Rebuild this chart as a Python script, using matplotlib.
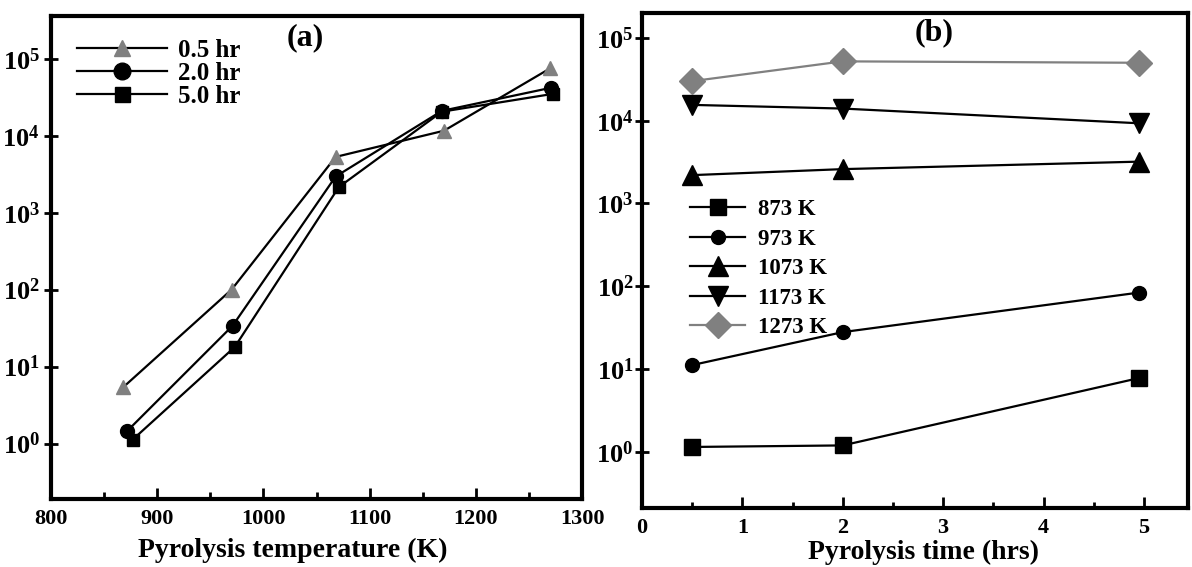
import matplotlib
matplotlib.use("Agg")
import matplotlib.pyplot as plt
from matplotlib.ticker import FixedLocator, NullLocator

plt.rcParams['font.family'] = ['Liberation Serif', 'DejaVu Serif']
plt.rcParams['font.weight'] = 'bold'
plt.rcParams['mathtext.fontset'] = 'custom'
plt.rcParams['mathtext.rm'] = 'Liberation Serif:bold'
plt.rcParams['mathtext.it'] = 'Liberation Serif:bold:italic'
plt.rcParams['mathtext.bf'] = 'Liberation Serif:bold'

# -------- data: panel (a), yield vs pyrolysis temperature --------
temp_05 = [868, 970, 1068, 1170, 1270]
val_05 = [5.4, 100, 5300, 11600, 75000]
temp_20 = [872, 971, 1068, 1168, 1271]
val_20 = [1.47, 34, 2950, 21000, 42000]
temp_50 = [877, 973, 1071, 1168, 1273]
val_50 = [1.13, 18, 2150, 20500, 35000]

# -------- data: panel (b), yield vs pyrolysis time --------
time_hrs = [0.5, 2.0, 4.95]
val_873 = [1.15, 1.2, 7.8]
val_973 = [11.2, 28, 84]
val_1073 = [2200, 2600, 3200]
val_1173 = [15500, 14000, 9300]
val_1273 = [30000, 52000, 50000]

ytick_vals = [1, 10, 100, 1000, 10000, 100000]
ytick_labels = [r'$10^{%d}$' % i for i in range(6)]

fig = plt.figure(figsize=(11.92, 5.67), dpi=100)
ax1 = fig.add_axes([0.0428, 0.1199, 0.4455, 0.8519])
ax2 = fig.add_axes([0.5386, 0.1041, 0.4581, 0.873])

gray = '#808080'

# -------- panel (a) --------
ax1.plot(temp_05, val_05, '-^', color='black', lw=1.6, mfc=gray, mec=gray, ms=10, label='0.5 hr')
ax1.plot(temp_20, val_20, '-o', color='black', lw=1.6, ms=10, label='2.0 hr')
ax1.plot(temp_50, val_50, '-s', color='black', lw=1.6, ms=9, label='5.0 hr')
ax1.set_yscale('log')
ax1.set_xlim(800, 1300)
ax1.set_ylim(10 ** -0.72, 10 ** 5.555)
ax1.set_xticks([800, 900, 1000, 1100, 1200, 1300])
ax1.xaxis.set_minor_locator(FixedLocator([850, 950, 1050, 1150, 1250]))
ax1.set_yticks(ytick_vals, ytick_labels)
ax1.yaxis.set_minor_locator(NullLocator())
ax1.tick_params(axis='x', which='major', direction='in', length=8, width=2, labelsize=16, pad=7)
ax1.tick_params(axis='x', which='minor', direction='in', length=5, width=2)
ax1.tick_params(axis='y', which='major', direction='inout', length=10, width=2, labelsize=19, pad=3)
ax1.set_xlabel('Pyrolysis temperature (K)', fontsize=20, fontweight='bold')
ax1.xaxis.set_label_coords(0.456, -0.08)
ax1.text(0.478, 0.955, '(a)', transform=ax1.transAxes, fontsize=23, fontweight='bold',
         ha='center', va='center')
ax1.legend(loc='upper left', bbox_to_anchor=(0.049, 0.952), frameon=False, fontsize=18,
           handlelength=3.6, handletextpad=0.45, labelspacing=0.0, borderpad=0, borderaxespad=0,
           markerscale=1.2)

# -------- panel (b) --------
ax2.plot(time_hrs, val_873, '-s', color='black', lw=1.6, ms=12, label='873 K')
ax2.plot(time_hrs, val_973, '-o', color='black', lw=1.6, ms=10, label='973 K')
ax2.plot(time_hrs, val_1073, '-^', color='black', lw=1.6, ms=14, label='1073 K')
ax2.plot(time_hrs, val_1173, '-v', color='black', lw=1.6, ms=14, label='1173 K')
ax2.plot(time_hrs, val_1273, '-D', color=gray, lw=1.6, ms=13, label='1273 K')
ax2.set_yscale('log')
ax2.set_xlim(0, 5.44)
ax2.set_ylim(10 ** -0.676, 10 ** 5.30)
ax2.set_xticks([0, 1, 2, 3, 4, 5])
ax2.xaxis.set_minor_locator(FixedLocator([0.5, 1.5, 2.5, 3.5, 4.5]))
ax2.set_yticks(ytick_vals, ytick_labels)
ax2.yaxis.set_minor_locator(NullLocator())
ax2.tick_params(axis='x', which='major', direction='in', length=8, width=2, labelsize=16, pad=7)
ax2.tick_params(axis='x', which='minor', direction='in', length=4, width=2)
ax2.tick_params(axis='y', which='major', direction='inout', length=10, width=2, labelsize=19, pad=1)
ax2.set_xlabel('Pyrolysis time (hrs)', fontsize=20, fontweight='bold')
ax2.xaxis.set_label_coords(0.515, -0.065)
ax2.text(0.535, 0.96, '(b)', transform=ax2.transAxes, fontsize=23, fontweight='bold',
         ha='center', va='center')
ax2.legend(loc='upper left', bbox_to_anchor=(0.088, 0.624), frameon=False, fontsize=16.5,
           handlelength=2.4, handletextpad=0.55, labelspacing=0.37, borderpad=0, borderaxespad=0)

for ax in (ax1, ax2):
    for side in ('left', 'right', 'top', 'bottom'):
        ax.spines[side].set_linewidth(3)

fig.savefig('out.png', dpi=100)
